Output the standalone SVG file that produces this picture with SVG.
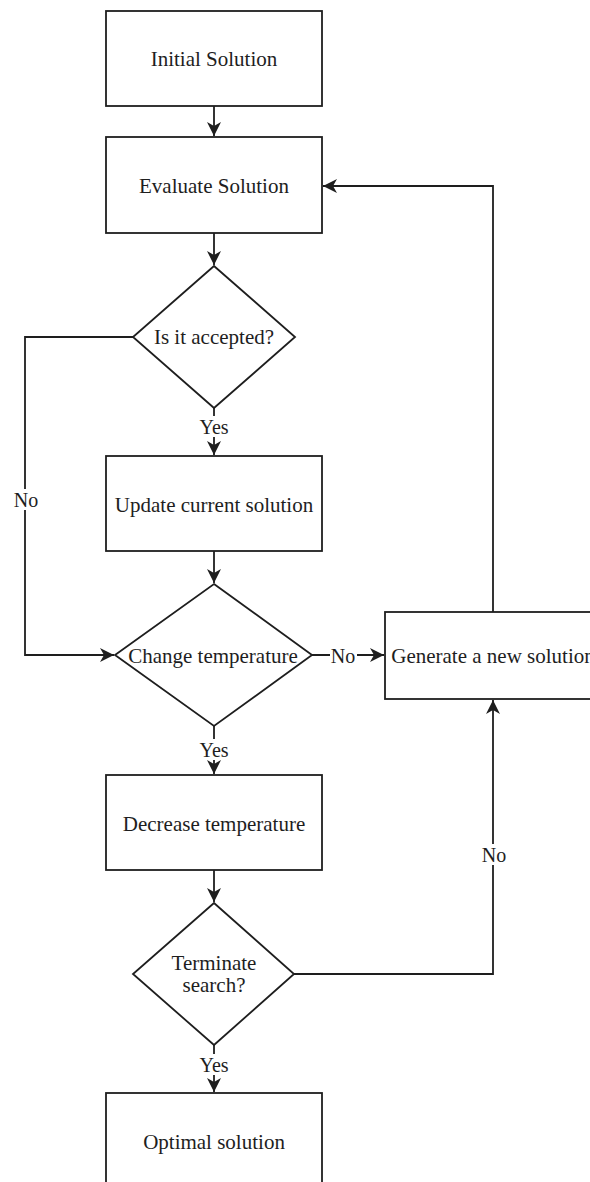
<svg xmlns="http://www.w3.org/2000/svg" width="590" height="1182" viewBox="0 0 590 1182">
<style>
.box{fill:#fff;stroke:#1e1e1e;stroke-width:1.8}
.t{font-family:"Liberation Serif","Times New Roman",serif;font-size:21px;fill:#1e1e1e;text-anchor:middle}
.lb{font-family:"Liberation Serif","Times New Roman",serif;font-size:20px;fill:#1e1e1e;text-anchor:middle}
.c{fill:none;stroke:#1e1e1e;stroke-width:1.8}
.bg{fill:#fff}
</style>
<defs>
<marker id="ar" markerUnits="userSpaceOnUse" markerWidth="16" markerHeight="16" refX="14" refY="7" orient="auto">
<path d="M0,0 L14,7 L0,14 L4,7 Z" fill="#1e1e1e"/>
</marker>
</defs>
<rect width="590" height="1182" fill="#fff"/>
<g id="connectors">
<path class="c" d="M214,106 V136" marker-end="url(#ar)"/>
<path class="c" d="M214,233 V265" marker-end="url(#ar)"/>
<path class="c" d="M214,408 V455" marker-end="url(#ar)"/>
<path class="c" d="M133,337 H25 V655 H114" marker-end="url(#ar)"/>
<path class="c" d="M214,551 V583" marker-end="url(#ar)"/>
<path class="c" d="M312,655 H384" marker-end="url(#ar)"/>
<path class="c" d="M214,726 V774" marker-end="url(#ar)"/>
<path class="c" d="M214,870 V902" marker-end="url(#ar)"/>
<path class="c" d="M294,974 H493 V700" marker-end="url(#ar)"/>
<path class="c" d="M214,1045 V1092" marker-end="url(#ar)"/>
<path class="c" d="M493,612 V186 H323" marker-end="url(#ar)"/>
<rect class="bg" x="199" y="416" width="30" height="21"/>
<text class="lb" x="214" y="434">Yes</text>
<rect class="bg" x="12" y="489" width="27" height="21"/>
<text class="lb" x="26" y="507">No</text>
<rect class="bg" x="330" y="645" width="27" height="21"/>
<text class="lb" x="343" y="663">No</text>
<rect class="bg" x="199" y="739" width="30" height="21"/>
<text class="lb" x="214" y="757">Yes</text>
<rect class="bg" x="480" y="844" width="27" height="21"/>
<text class="lb" x="494" y="862">No</text>
<rect class="bg" x="199" y="1054" width="30" height="21"/>
<text class="lb" x="214" y="1072">Yes</text>
</g>
<g id="initial">
<rect class="box" x="106" y="11" width="216" height="95"/>
<text class="t" x="214" y="66">Initial Solution</text>
</g>
<g id="evaluate">
<rect class="box" x="106" y="137" width="216" height="96"/>
<text class="t" x="214" y="193">Evaluate Solution</text>
</g>
<g id="accepted">
<polygon class="box" points="214,266 295,337 214,408 133,337"/>
<text class="t" x="214" y="344">Is it accepted?</text>
</g>
<g id="update">
<rect class="box" x="106" y="456" width="216" height="95"/>
<text class="t" x="214" y="512">Update current solution</text>
</g>
<g id="change">
<polygon class="box" points="214,584 312,655 214,726 115,655"/>
<text class="t" x="213" y="663">Change temperature</text>
</g>
<g id="generate">
<rect class="box" x="385" y="612" width="216" height="87"/>
<text class="t" x="493" y="663">Generate a new solution</text>
</g>
<g id="decrease">
<rect class="box" x="106" y="775" width="216" height="95"/>
<text class="t" x="214" y="831">Decrease temperature</text>
</g>
<g id="terminate">
<polygon class="box" points="214,903 294,974 214,1045 133,974"/>
<text class="t" x="214" y="970">Terminate</text>
<text class="t" x="214" y="992">search?</text>
</g>
<g id="optimal">
<rect class="box" x="106" y="1093" width="216" height="96"/>
<text class="t" x="214" y="1149">Optimal solution</text>
</g>
</svg>
